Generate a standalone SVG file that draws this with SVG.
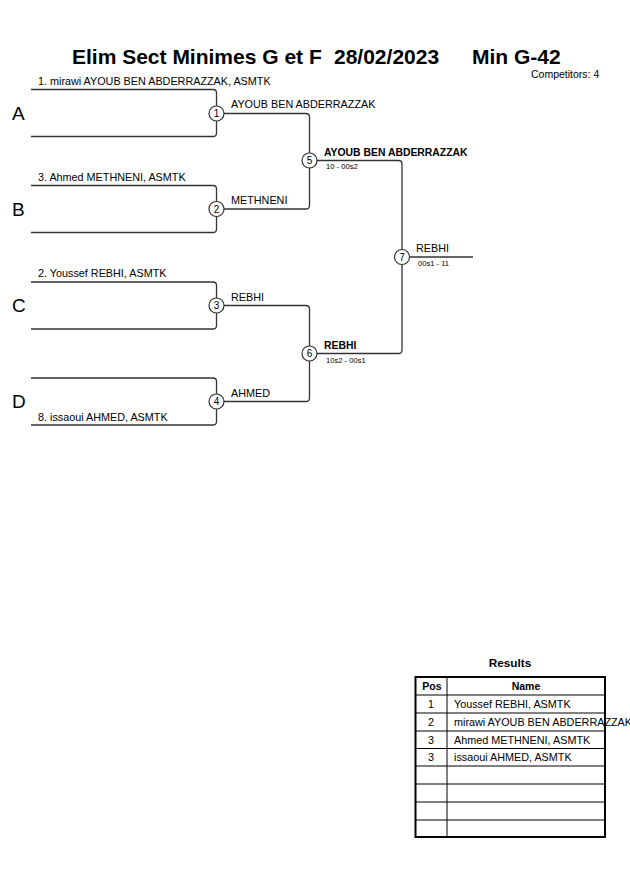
<svg xmlns="http://www.w3.org/2000/svg" width="630" height="891" viewBox="0 0 630 891">
<style>
text{font-family:"Liberation Sans",Arial,sans-serif;fill:#000}
.ln{fill:none;stroke:#333;stroke-width:1.3}
.c{fill:#fff;stroke:#333;stroke-width:1.2}
.cn{font-size:10px;text-anchor:middle}
.nm{font-size:10.8px}
.win{font-size:10.4px;font-weight:bold}
.sc{font-size:7.6px}
.let{font-size:19px}
.tt{font-size:21px;font-weight:bold}
.tb{fill:none;stroke:#000;stroke-width:1}
</style>
<rect width="630" height="891" fill="#fff"/>
<text x="72" y="64" class="tt">Elim Sect Minimes G et F</text>
<text x="334" y="64" class="tt">28/02/2023</text>
<text x="472" y="64" class="tt">Min G-42</text>
<text x="531" y="78" font-size="10.5">Competitors: 4</text>

<g id="connectors">
<path class="ln" d="M31,89.5 H213 Q216.5,89.5 216.5,93 V133 Q216.5,136.5 213,136.5 H31"/>
<path class="ln" d="M31,185.5 H213 Q216.5,185.5 216.5,189 V229 Q216.5,232.5 213,232.5 H31"/>
<path class="ln" d="M31,282 H213 Q216.5,282 216.5,285.5 V325.5 Q216.5,329 213,329 H31"/>
<path class="ln" d="M31,378 H213 Q216.5,378 216.5,381.5 V421.5 Q216.5,425 213,425 H31"/>
<path class="ln" d="M216.5,113.5 H306 Q309.5,113.5 309.5,117 V160.5"/>
<path class="ln" d="M216.5,209 H306 Q309.5,209 309.5,205.5 V160.5"/>
<path class="ln" d="M216.5,305.5 H306 Q309.5,305.5 309.5,309 V353.5"/>
<path class="ln" d="M216.5,401.5 H306 Q309.5,401.5 309.5,398 V353.5"/>
<path class="ln" d="M309.5,160.5 H398.5 Q402,160.5 402,164 V257"/>
<path class="ln" d="M309.5,353.5 H398.5 Q402,353.5 402,350 V257"/>
<path class="ln" d="M402,257 H473"/>
</g>

<g id="poolA">
<text x="12" y="120" class="let">A</text>
<text x="38" y="85" class="nm">1. mirawi AYOUB BEN ABDERRAZZAK, ASMTK</text>
</g>
<g id="poolB">
<text x="12" y="216" class="let">B</text>
<text x="38" y="181" class="nm">3. Ahmed METHNENI, ASMTK</text>
</g>
<g id="poolC">
<text x="12" y="312" class="let">C</text>
<text x="38" y="277" class="nm">2. Youssef REBHI, ASMTK</text>
</g>
<g id="poolD">
<text x="12" y="408" class="let">D</text>
<text x="38" y="421" class="nm">8. issaoui AHMED, ASMTK</text>
</g>

<g id="m1"><circle class="c" cx="216.5" cy="113.5" r="7.5"/><text x="216.5" y="117" class="cn">1</text>
<text x="231" y="108" class="nm">AYOUB BEN ABDERRAZZAK</text></g>
<g id="m2"><circle class="c" cx="216.5" cy="209" r="7.5"/><text x="216.5" y="212.5" class="cn">2</text>
<text x="231" y="204" class="nm">METHNENI</text></g>
<g id="m3"><circle class="c" cx="216.5" cy="305.5" r="7.5"/><text x="216.5" y="309" class="cn">3</text>
<text x="231" y="301" class="nm">REBHI</text></g>
<g id="m4"><circle class="c" cx="216.5" cy="401.5" r="7.5"/><text x="216.5" y="405" class="cn">4</text>
<text x="231" y="397" class="nm">AHMED</text></g>
<g id="m5"><circle class="c" cx="309.5" cy="160.5" r="7.5"/><text x="309.5" y="164" class="cn">5</text>
<text x="324" y="156" class="win">AYOUB BEN ABDERRAZZAK</text>
<text x="326" y="169" class="sc">10 - 00s2</text></g>
<g id="m6"><circle class="c" cx="309.5" cy="353.5" r="7.5"/><text x="309.5" y="357" class="cn">6</text>
<text x="324" y="349" class="win">REBHI</text>
<text x="326" y="363" class="sc">10s2 - 00s1</text></g>
<g id="m7"><circle class="c" cx="402" cy="257" r="7.5"/><text x="402" y="260.5" class="cn">7</text>
<text x="416" y="252" class="nm">REBHI</text>
<text x="418" y="266" class="sc">00s1 - 11</text></g>

<g id="results">
<text x="510" y="667" font-size="11.8" font-weight="bold" text-anchor="middle">Results</text>
<g class="tb">
<line x1="415" y1="695" x2="605" y2="695"/>
<line x1="415" y1="713" x2="605" y2="713"/>
<line x1="415" y1="731" x2="605" y2="731"/>
<line x1="415" y1="748.5" x2="605" y2="748.5"/>
<line x1="415" y1="766" x2="605" y2="766"/>
<line x1="415" y1="784" x2="605" y2="784"/>
<line x1="415" y1="802" x2="605" y2="802"/>
<line x1="415" y1="820" x2="605" y2="820"/>
<line x1="447" y1="677" x2="447" y2="837"/>
<rect x="415.5" y="677" width="189.5" height="160" stroke-width="2"/>
</g>
<text x="432" y="690" font-size="10.5" font-weight="bold" text-anchor="middle">Pos</text>
<text x="526" y="690" font-size="10.5" font-weight="bold" text-anchor="middle">Name</text>
<text x="431" y="708" class="nm" text-anchor="middle">1</text>
<text x="454" y="708" class="nm">Youssef REBHI, ASMTK</text>
<text x="431" y="726" class="nm" text-anchor="middle">2</text>
<text x="454" y="726" class="nm">mirawi AYOUB BEN ABDERRAZZAK</text>
<text x="431" y="744" class="nm" text-anchor="middle">3</text>
<text x="454" y="744" class="nm">Ahmed METHNENI, ASMTK</text>
<text x="431" y="761" class="nm" text-anchor="middle">3</text>
<text x="454" y="761" class="nm">issaoui AHMED, ASMTK</text>
</g>
</svg>
